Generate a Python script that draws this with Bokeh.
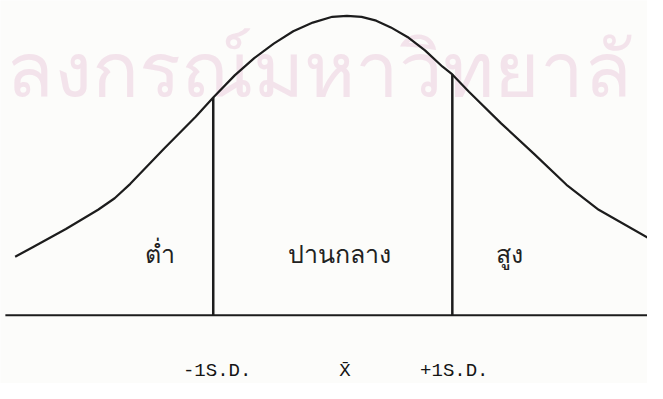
from bokeh.plotting import figure
from bokeh.models import Range1d
from bokeh.embed import file_html
from bokeh.resources import INLINE
from bokeh.core.properties import value

# Normal-curve outline (x position, height above baseline)
curve_x = [15, 33, 67, 100, 117, 133, 167, 200, 218, 240, 260, 280, 300, 320, 340,
           355, 370, 385, 400, 417, 435, 453, 463, 480, 513, 547, 580, 613, 663]
curve_h = [61, 71, 90, 110, 122, 137, 173, 207, 227, 250, 268, 283, 296, 305, 311,
           312, 311, 307, 300, 290, 276, 259, 251, 233, 200, 168, 136, 110, 81]

# Cut points (-1 S.D. and +1 S.D.) and where they meet the curve
cut_x = [218, 463]
cut_top = [227, 251]

baseline_x = [5, 663]
baseline_h = [0, 0]

region_labels = ["ต่ำ", "ปานกลาง", "สูง"]
region_x = [163, 347, 522]
region_h = [65, 65, 65]

tick_labels = ["-1S.D.", "X\u0304", "+1S.D."]
tick_x = [222, 353, 465]
tick_h = [-58, -58, -58]

watermark = ["ลงกรณ์มหาวิทยาลั"]
watermark_x = [6]
watermark_h = [259]

BG = "#fcfcfa"
INK = "#1c1c1c"

p = figure(width=647, height=383,
           x_range=Range1d(0, 663), y_range=Range1d(-71, 328),
           output_backend="svg", toolbar_location=None,
           min_border=0, min_border_left=0, min_border_right=0,
           min_border_top=0, min_border_bottom=0,
           background_fill_color=BG, border_fill_color=BG)
p.axis.visible = False
p.grid.visible = False
p.outline_line_color = None

p.text(x=watermark_x, y=watermark_h, text=watermark,
       text_font=value("Noto Sans"), text_font_size="78px",
       text_color="#f3e3eb", text_align="left", text_baseline="middle")

p.line(baseline_x, baseline_h, line_color=INK, line_width=2)
p.line(curve_x, curve_h, line_color=INK, line_width=2.2, line_join="round")
p.segment(x0=cut_x, y0=[0, 0], x1=cut_x, y1=cut_top, line_color=INK, line_width=2.5)

p.text(x=region_x, y=region_h, text=region_labels,
       text_font=value("Noto Sans"), text_font_size="25px",
       text_color="#222222", text_align="center", text_baseline="middle")

p.text(x=tick_x, y=tick_h, text=tick_labels,
       text_font=value("Liberation Mono"), text_font_size="19px",
       text_color="#151515", text_align="center", text_baseline="middle")

open("out.html", "w").write(file_html(p, INLINE))
